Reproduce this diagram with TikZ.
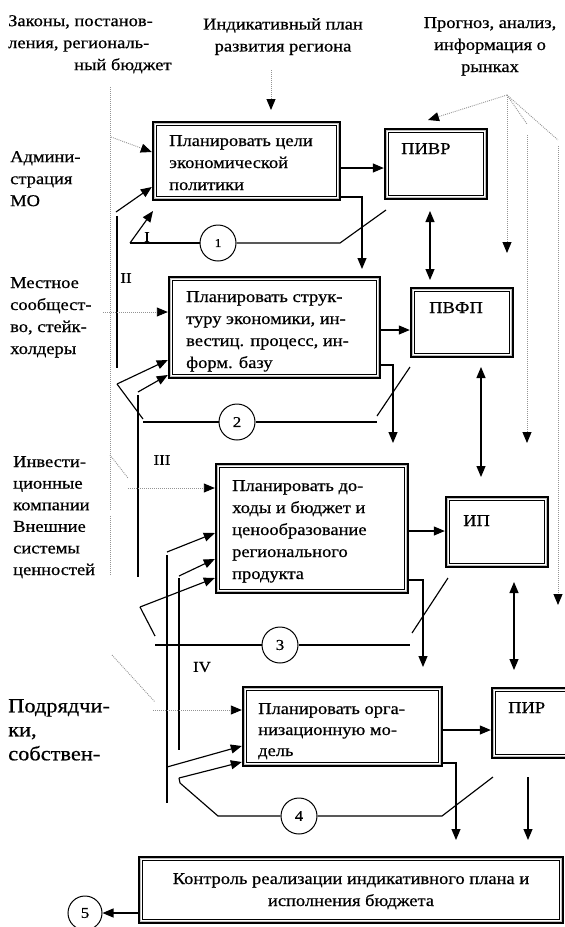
\documentclass[tikz,border=0pt]{standalone}
\usepackage{fontspec}
\setmainfont{Liberation Serif}[FakeStretch=1.12,FakeBold=0.6]
\usetikzlibrary{arrows.meta,calc}
\newcommand{\mainsz}{\fontsize{16.5}{22}\selectfont}
\newcommand{\bigsz}{\fontsize{20}{24}\selectfont}
\newcommand{\romsz}{\fontsize{15}{17}\selectfont}
\newcommand{\numsz}{\fontsize{15}{17}\selectfont}
\newcommand{\innerframe}[1]{%
  \draw[line width=1.6pt,gray!50] ($(#1.north west)+(2.8,2.8)$) rectangle ($(#1.south east)+(-2.8,-2.8)$);
  \draw[line width=1pt] ($(#1.north west)+(4.6,4.6)$) rectangle ($(#1.south east)+(-4.6,-4.6)$);}
\newcommand{\fbx}[5]{\node[frame, minimum width={(#4-#2)*1pt}, minimum height={(#5-#3)*1pt}] (#1) at ({(#2+#4)/2},{(#3+#5)/2}) {};\innerframe{#1}}
\begin{document}
\begin{tikzpicture}[x=1pt,y=-1pt,
  >={Triangle[length=11pt,width=9pt]},
  conn/.style={line width=1.15pt},
  arr/.style={conn,->},
  darr/.style={conn,<->},
  dots/.style={line width=0.9pt,gray!85,dash pattern=on 0.9pt off 1.1pt},
  darrow/.style={dots,-{Triangle[length=11pt,width=9pt,color=black]}},
  frame/.style={draw,line width=2.4pt,inner sep=0pt,fill=white},
  lbl/.style={font=\mainsz,align=left,inner sep=0pt},
  btxt/.style={font=\mainsz,align=left,inner sep=0pt,anchor=north west},
  rom/.style={font=\romsz,inner sep=0pt},
  circ/.style={circle,draw,line width=1pt,minimum size=36pt,inner sep=0pt,fill=white,font=\numsz}]
\useasboundingbox (0,0) rectangle (565,927);
\clip (0,0) rectangle (565,927);
\fill[white] (0,0) rectangle (565,927);

% ---------- labels ----------
\node[lbl,anchor=north west] (zak) at (8,15) {Законы, постанов-\\ления, региональ-\\\hspace*{66pt}ный бюджет};
\node[lbl,anchor=north,align=center] (ind) at (283,18) {Индикативный план\\развития региона};
\node[lbl,anchor=north,align=center] (prog) at (490,17) {Прогноз, анализ,\\информация о\\рынках};
\node[lbl,anchor=north west] (adm) at (10,151) {Админи-\\страция\\МО};
\node[lbl,anchor=north west] (mest) at (10,277) {Местное\\сообщест-\\во, стейк-\\холдеры};
\node[lbl,anchor=north west,font=\fontsize{16.5}{21.6}\selectfont] (inv) at (13,456) {Инвести-\\ционные\\компании\\Внешние\\системы\\ценностей};
\node[lbl,anchor=north west,font=\bigsz] (podr) at (8,699) {Подрядчи-\\ки,\\собствен-};

% ---------- boxes ----------
\fbx{b1}{153}{122}{340}{200}
\fbx{p1}{385}{129}{487}{199}
\fbx{b2}{169}{277}{380}{378}
\fbx{p2}{411}{288}{513}{357}
\fbx{b3}{216}{464}{408}{593}
\fbx{p3}{446}{497}{548}{567}
\fbx{b4}{243}{687}{442}{766}
\fbx{p4}{492}{688}{580}{758}
\fbx{b5}{139}{857}{563}{923}

\node[btxt] (b1t) at (169,135) {Планировать цели\\экономической\\политики};
\node[btxt] (b2t) at (186,291) {Планировать струк-\\туру экономики, ин-\\вестиц. процесс, ин-\\форм. базу};
\node[btxt] (b3t) at (232,480) {Планировать до-\\ходы и бюджет и\\ценообразование\\регионального\\продукта};
\node[btxt,font=\fontsize{16.5}{21}\selectfont] (b4t) at (258,703) {Планировать орга-\\низационную мо-\\дель};
\node[btxt,anchor=north,align=center] (b5t) at (351,873) {Контроль реализации индикативного плана и\\исполнения бюджета};
\node[btxt] (p1t) at (401,143) {ПИВР};
\node[btxt] (p2t) at (429,302) {ПВФП};
\node[btxt] (p3t) at (463,515) {ИП};
\node[btxt] (p4t) at (508,702) {ПИР};

\node[rom] (rI) at (147,237) {I};
\node[rom] (rII) at (126,278) {II};
\node[rom] (rIII) at (162,460) {III};
\node[rom] (rIV) at (202,667) {IV};

% ---------- coordinates ----------
\coordinate (indA) at (271,70);  \coordinate (indB) at (271,110);
\coordinate (lvA) at (110,87);   \coordinate (lvB) at (110,510);
\coordinate (lvC) at (110,516);  \coordinate (lvD) at (110,575);
\coordinate (d1) at (111,137);
\coordinate (a1s) at (116,212);
\coordinate (v1a) at (117,216);  \coordinate (v1b) at (117,368);
\coordinate (l1L) at (130,243);  \coordinate (l1R) at (340,243);
\coordinate (l1D) at (386,210);  \coordinate (l1T) at (153,211);
\coordinate (b1d) at (362,269);
\coordinate (pp1a) at (430,211); \coordinate (pp1b) at (430,280);
\coordinate (R) at (507,95);
\coordinate (Rt) at (428,120);   \coordinate (R1) at (507,253);
\coordinate (R2a) at (527,124);  \coordinate (R2b) at (527,135); \coordinate (R2c) at (527,443);
\coordinate (R3a) at (558,140);  \coordinate (R3b) at (558,146); \coordinate (R3c) at (558,605);
\coordinate (d2) at (103,312);
\coordinate (a2s) at (117,384);  \coordinate (a2t) at (138,392);
\coordinate (l2a) at (143,419);  \coordinate (l2L) at (143,422);
\coordinate (l2R) at (377,422);  \coordinate (l2Da) at (377,416); \coordinate (l2Db) at (410,367);
\coordinate (v2a) at (138,395);  \coordinate (v2b) at (138,577);
\coordinate (b2d) at (393,443);
\coordinate (pp2a) at (481,367); \coordinate (pp2b) at (481,477);
\coordinate (d3a) at (110,455);  \coordinate (d3b) at (128,478); \coordinate (d3c) at (128,488);
\coordinate (a3a) at (167,552);  \coordinate (a3b) at (179,576); \coordinate (a3c) at (140,607);
\coordinate (l3a) at (155,636);  \coordinate (l3L) at (155,645);
\coordinate (l3R) at (410,645);  \coordinate (l3Da) at (412,633); \coordinate (l3Db) at (448,578);
\coordinate (v3a) at (167,555);  \coordinate (v3b) at (167,803);
\coordinate (v4a) at (179,578);  \coordinate (v4b) at (179,750);
\coordinate (b3d) at (423,667);
\coordinate (pp3a) at (514,582); \coordinate (pp3b) at (514,670);
\coordinate (d4a) at (112,655);  \coordinate (d4b) at (155,702); \coordinate (d4c) at (153,710);
\coordinate (a4a) at (167,767);  \coordinate (a4b) at (179,778);
\coordinate (l4a) at (180,783);  \coordinate (l4L) at (218,816);
\coordinate (l4R) at (442,816);  \coordinate (l4D) at (493,777);
\coordinate (b4d) at (456,840);
\coordinate (p4da) at (528,777); \coordinate (p4db) at (528,840);

% ---------- circles ----------
\node[circ,font=\fontsize{12}{14}\selectfont] (c1) at (218,243) {1};
\node[circ] (c2) at (237,422) {2};
\node[circ] (c3) at (280,645) {3};
\node[circ] (c4) at (299,816) {4};
\node[circ,minimum size=34pt] (c5) at (85,913) {5};

% ---------- connectors ----------
\draw[darrow] (indA) -- (indB);
\draw[dots] (lvA) -- (lvB);
\draw[dots] (lvC) -- (lvD);
\draw[darrow] (d1) -- (b1.west |- 0,152);
\draw[arr] (a1s) -- (b1.west |- 0,187);
\draw[conn] (v1a) -- (v1b);
\draw[conn] (l1D) -- (l1R) -- (c1.east);
\draw[conn] (c1.west) -- (l1L);
\draw[arr] (l1L) -- (l1T);
\draw[arr] (b1.east |- 0,168) -- (p1.west |- 0,168);
\draw[arr] (b1.east |- 0,197) -| (b1d);
\draw[darr] (pp1a) -- (pp1b);
\draw[darrow] (R) -- (Rt);
\draw[darrow] (R) -- (R1);
\draw[dots] (R) -- (R2a);
\draw[darrow] (R2b) -- (R2c);
\draw[dots] (R) -- (R3a);
\draw[darrow] (R3b) -- (R3c);

\draw[darrow] (d2) -- (b2.west |- 0,312);
\draw[arr] (a2s) -- (b2.west |- 0,360);
\draw[arr] (a2t) -- (b2.west |- 0,375);
\draw[conn] (a2s) -- (l2a);
\draw[conn] (l2L) -- (c2.west);
\draw[conn] (c2.east) -- (l2R);
\draw[conn] (l2Da) -- (l2Db);
\draw[conn] (v2a) -- (v2b);
\draw[arr] (b2.east |- 0,330) -- (p2.west |- 0,330);
\draw[arr] (b2.east |- 0,365) -| (b2d);
\draw[darr] (pp2a) -- (pp2b);

\draw[dots] (d3a) -- (d3b);
\draw[darrow] (d3c) -- (b3.west |- 0,488);
\draw[arr] (a3a) -- (b3.west |- 0,533);
\draw[arr] (a3b) -- (b3.west |- 0,559);
\draw[arr] (a3c) -- (b3.west |- 0,578);
\draw[conn] (a3c) -- (l3a);
\draw[conn] (l3L) -- (c3.west);
\draw[conn] (c3.east) -- (l3R);
\draw[conn] (l3Da) -- (l3Db);
\draw[conn] (v3a) -- (v3b);
\draw[conn] (v4a) -- (v4b);
\draw[arr] (b3.east |- 0,531) -- (p3.west |- 0,531);
\draw[arr] (b3.east |- 0,580) -| (b3d);
\draw[darr] (pp3a) -- (pp3b);

\draw[dots] (d4a) -- (d4b);
\draw[darrow] (d4c) -- (b4.west |- 0,710);
\draw[arr] (a4a) -- (b4.west |- 0,746);
\draw[arr] (a4b) -- (b4.west |- 0,762);
\draw[conn] (a4b) -- (l4a);
\draw[conn] (l4a) -- (l4L) -- (c4.west);
\draw[conn] (c4.east) -- (l4R) -- (l4D);
\draw[arr] (b4.east |- 0,730) -- (p4.west |- 0,730);
\draw[arr] (b4.east |- 0,763) -| (b4d);
\draw[arr] (p4da) -- (p4db);

\draw[arr] (b5.west |- 0,913) -- (c5.east);
\end{tikzpicture}
\end{document}
